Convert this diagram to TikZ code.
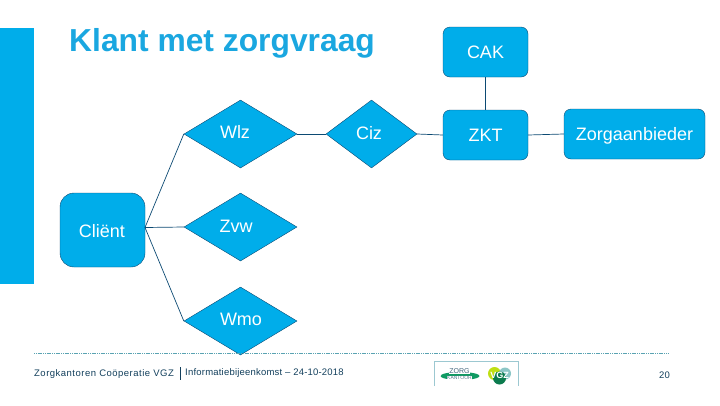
\documentclass[tikz,border=0pt]{standalone}
\usepackage{fontspec}
\setmainfont{Liberation Sans}
\usetikzlibrary{shapes.geometric}
\definecolor{zorgblue}{HTML}{00ADEA}
\definecolor{titleblue}{HTML}{1AA7E0}
\definecolor{edgeblue}{HTML}{0C4A73}
\definecolor{footink}{HTML}{123F5C}
\definecolor{dotteal}{HTML}{5AA3B2}
\definecolor{logogreen}{HTML}{0F9A62}
\tikzset{
  boxnode/.style={draw=edgeblue, fill=zorgblue, rounded corners=7pt, text=white, text height=13pt, text depth=0pt, font=\fontsize{18}{18}\selectfont},
  ruitnode/.style={draw=edgeblue, fill=zorgblue, diamond, aspect=1.66, inner sep=0pt},
  vultekst/.style={text=white, inner sep=0pt, font=\fontsize{18}{18}\selectfont},
  verbind/.style={draw=edgeblue, line width=0.7pt},
  footnode/.style={text=footink, inner sep=0pt}
}
\begin{document}
\begin{tikzpicture}[x=1pt, y=-1pt]
  \useasboundingbox (0, 0) rectangle (720, 405);

  \fill[zorgblue] (0, 28) rectangle (34, 284);
  \node[anchor=base west, inner sep=0pt, text=titleblue, font=\bfseries\fontsize{31.8}{32}\selectfont] (titel) at (69, 51) {Klant met zorgvraag};

  % linker kolom
  \node[boxnode, rounded corners=14pt, minimum width=85pt, minimum height=74pt] (client) at (102.5, 230) {};
  \node[vultekst] (clienttxt) at (102, 231) {Cliënt};
  \coordinate (clientuit) at (145, 227.5);

  \node[ruitnode, minimum width=113pt, minimum height=68pt] (wlz) at (240.5, 134) {};
  \node[ruitnode, minimum width=113pt, minimum height=68pt] (zvw) at (240.5, 227) {};
  \node[ruitnode, minimum width=113pt, minimum height=68pt] (wmo) at (240.5, 321) {};
  \node[ruitnode, minimum width=91pt, minimum height=68pt] (ciz) at (371.5, 134) {};
  \node[vultekst] (wlztxt) at (235, 132) {Wlz};
  \node[vultekst] (zvwtxt) at (236, 226) {Zvw};
  \node[vultekst] (wmotxt) at (241, 319) {Wmo};
  \node[vultekst] (ciztxt) at (369, 133) {Ciz};

  \node[boxnode, minimum width=85pt, minimum height=50pt] (cak) at (485.5, 52) {CAK};
  \node[boxnode, minimum width=85pt, minimum height=50pt] (zkt) at (485.5, 135) {ZKT};
  \node[boxnode, minimum width=141pt, minimum height=50pt] (aanbieder) at (634.5, 134) {Zorgaanbieder};

  \draw[verbind] (clientuit) -- (wlz.west);
  \draw[verbind] (clientuit) -- (zvw.west);
  \draw[verbind] (clientuit) -- (wmo.west);
  \draw[verbind] (wlz.east) -- (ciz.west);
  \draw[verbind] (ciz.east) -- (zkt.west);
  \draw[verbind] (cak.south) -- (zkt.north);
  \draw[verbind] (zkt.east) -- (aanbieder.west);

  % voetregel
  \coordinate (lijnl) at (34, 353.5);
  \coordinate (lijnr) at (669, 353.5);
  \draw[dotteal, line width=1.6pt, dash pattern=on 1.2pt off 0.6pt] (lijnl) -- (lijnr);
  \node[footnode, anchor=base west, font=\fontsize{9.5}{10}\selectfont\addfontfeature{LetterSpace=5.2}] (kantoor) at (34, 376.5) {Zorgkantoren Coöperatie VGZ};
  \node[footnode, anchor=base west, font=\fontsize{9.5}{10}\selectfont\addfontfeature{LetterSpace=2.2}] (info) at (185, 375.5) {Informatiebijeenkomst – 24-10-2018};
  \node[footnode, anchor=base east, font=\fontsize{9.5}{10}\selectfont] (pagina) at (670, 378) {20};
  \coordinate (streepa) at (180.5, 367);
  \coordinate (streepb) at (180.5, 380);
  \draw[footink, line width=0.8pt] (streepa) -- (streepb);

  % logo
  \draw[dotteal!60, line width=0.6pt] (434.5, 386) -- (434.5, 361.5) -- (518.5, 361.5) -- (518.5, 386);
  \fill[logogreen] (460, 376) ellipse (19.5pt and 4pt);
  \node[inner sep=0.3pt, fill=white, text=footink!80, font=\fontsize{7}{7}\selectfont] (zorg) at (459.5, 371.5) {ZORG};
  \node[inner sep=0.3pt, fill=white, text=footink!70, font=\fontsize{5}{5}\selectfont] (kantoorlogo) at (459.5, 378) {KANTOOR};
  \fill[yellow!75!green] (494.5, 373.5) circle (6.5pt);
  \fill[teal!45] (505, 373.5) circle (6pt);
  \fill[logogreen!80!black] (499.5, 378) circle (6.5pt);
  \node[inner sep=0pt, text=white, font=\bfseries\fontsize{9}{9}\selectfont] (vgz) at (499.5, 375) {VGZ};
\end{tikzpicture}
\end{document}
